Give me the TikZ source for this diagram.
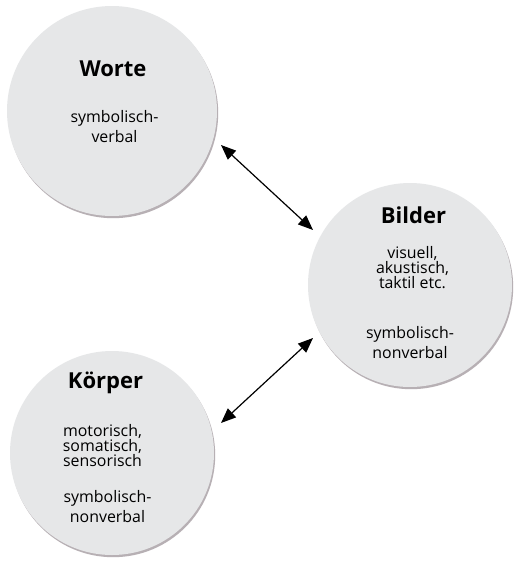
\documentclass[tikz,border=0pt]{standalone}
\usepackage{fontspec}
\setmainfont{Open Sans}
\usetikzlibrary{arrows.meta,shadows}
\definecolor{bubblefill}{HTML}{E6E7E8}
\definecolor{shadowcol}{HTML}{7D7078}
\begin{document}
\begin{tikzpicture}[x=1pt,y=-1pt,
  bubble/.style={circle, fill=bubblefill, draw=none, inner sep=0pt, minimum size=#1,
    drop shadow={shadow xshift=1.2pt, shadow yshift=-2.2pt, fill=shadowcol, opacity=0.55}},
  title/.style={inner sep=0pt, font=\fontsize{22}{24}\selectfont\bfseries},
  body/.style={inner sep=0pt, align=center, font=\fontsize{15.9}{20}\selectfont},
  small/.style={inner sep=0pt, align=center, font=\fontsize{15.9}{14.8}\selectfont},
  link/.style={{Triangle[length=15pt,width=12pt]}-{Triangle[length=15pt,width=12pt]}, line width=1.2pt}
]
\useasboundingbox (0,0) rectangle (514,563);
\fill[white] (0,0) rectangle (514,563);

\node[bubble=210pt] (worte) at (112,111) {};
\node[bubble=204pt] (bilder) at (410,285) {};
\node[bubble=204pt] (koerper) at (112,453) {};

\node[title] (worteT) at (113,69) {Worte};
\node[body] (worteB) at (114.5,127) {symbolisch-\\verbal};

\node[title] (bilderT) at (413.5,215.5) {Bilder};
\node[small] (bilderS) at (412.5,267.5) {visuell,\\akustisch,\\taktil etc.};
\node[body] (bilderB) at (410,342.5) {symbolisch-\\nonverbal};

\node[title] (koerperT) at (105.5,383) {Körper};
\node[small] (koerperS) at (102.5,445.5) {motorisch,\\somatisch,\\sensorisch};
\node[body] (koerperB) at (107.5,507) {symbolisch-\\nonverbal};

\coordinate (a1) at (221,145);
\coordinate (a2) at (313,230);
\coordinate (b1) at (313,338);
\coordinate (b2) at (221,423);
\draw[link] (a1) -- (a2);
\draw[link] (b1) -- (b2);
\end{tikzpicture}
\end{document}
